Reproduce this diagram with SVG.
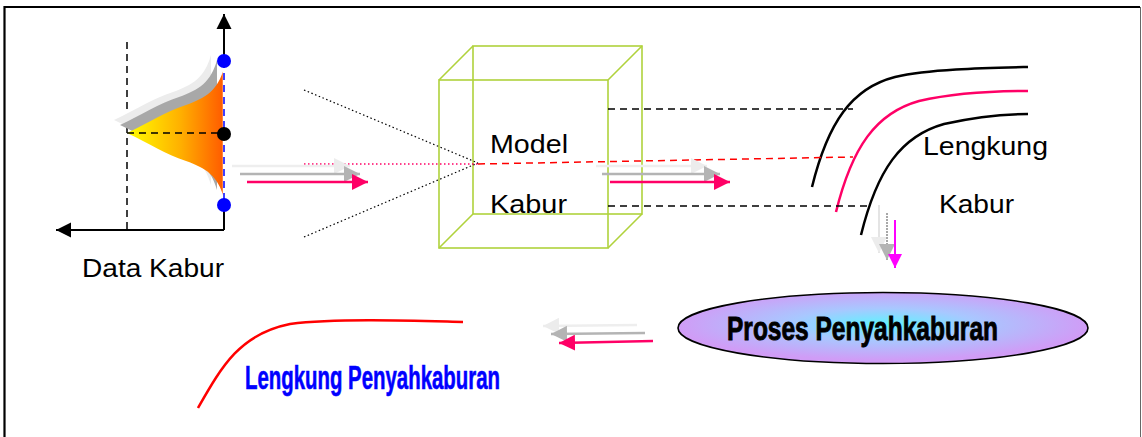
<svg xmlns="http://www.w3.org/2000/svg" width="1142" height="437" viewBox="0 0 1142 437">
  <style>
    .lbl { font-family: "Liberation Sans", Arial, sans-serif; font-size: 25px; fill: #000; }
    .art { font-family: "Liberation Sans", Arial, sans-serif; font-size: 33px; font-weight: bold; }
    .axis { stroke: #000; stroke-width: 2; fill: none; }
    .dash { stroke-width: 1.5; stroke-dasharray: 7 5; fill: none; }
    .dot { stroke: #000; stroke-width: 1.2; stroke-dasharray: 1.5 2.5; fill: none; }
    .box { stroke: #b0d23c; stroke-width: 1.6; fill: none; }
    .curve { fill: none; stroke-width: 2.5; }
  </style>
  <defs>
    <linearGradient id="bellFill" x1="0" y1="0" x2="1" y2="0">
      <stop offset="0" stop-color="#ffff00"/>
      <stop offset="0.55" stop-color="#ffb000"/>
      <stop offset="1" stop-color="#ff5a00"/>
    </linearGradient>
    <radialGradient id="ovalFill" cx="0.5" cy="0.45" r="0.5">
      <stop offset="0" stop-color="#5ff3ff"/>
      <stop offset="0.45" stop-color="#a8c8ff"/>
      <stop offset="1" stop-color="#d09cf6"/>
    </radialGradient>
    <marker id="headPinkL" viewBox="0 0 10 10" refX="10" refY="5" markerWidth="16" markerHeight="16" markerUnits="userSpaceOnUse" orient="auto">
      <path d="M0,0 L10,5 L0,10 Z" fill="#ff0066"/>
    </marker>
    <marker id="headGray" viewBox="0 0 10 10" refX="10" refY="5" markerWidth="16" markerHeight="16" markerUnits="userSpaceOnUse" orient="auto">
      <path d="M0,0 L10,5 L0,10 Z" fill="#b4b4b4"/>
    </marker>
    <marker id="headLight" viewBox="0 0 10 10" refX="10" refY="5" markerWidth="16" markerHeight="16" markerUnits="userSpaceOnUse" orient="auto">
      <path d="M0,0 L10,5 L0,10 Z" fill="#ececec"/>
    </marker>
    <marker id="headMag" viewBox="0 0 10 10" refX="10" refY="5" markerWidth="16" markerHeight="14" markerUnits="userSpaceOnUse" orient="auto">
      <path d="M0,0 L10,5 L0,10 Z" fill="#ff00ff"/>
    </marker>
    <marker id="headBlack" viewBox="0 0 10 10" refX="10" refY="5" markerWidth="15" markerHeight="17" markerUnits="userSpaceOnUse" orient="auto">
      <path d="M0,0 L10,5 L0,10 Z" fill="#000"/>
    </marker>
    <!-- sideways half bell curve -->
    <path id="bell" d="M127,133 C150,122 165,112 186,105 C206,98 218,90 224,68 L224,198 C218,176 206,168 186,161 C165,154 150,144 127,133 Z"/>
  </defs>

  <!-- outer frame -->
  <path d="M4.5,440 V7 H1140" fill="none" stroke="#000" stroke-width="2.2"/>
  <path d="M1140.5,7 V440" fill="none" stroke="#666" stroke-width="1"/>

  <!-- fuzzy input data plot -->
  <g id="data-kabur">
    <line class="dash" x1="127" y1="42" x2="127" y2="230" stroke="#000"/>
    <use href="#bell" fill="#ececec" transform="translate(-13,-13)"/>
    <use href="#bell" fill="#a8a8a8" transform="translate(-7,-8)"/>
    <use href="#bell" fill="url(#bellFill)"/>
    <line class="dash" x1="127" y1="133" x2="224" y2="133" stroke="#000"/>
    <path class="axis" d="M224,230 V14" marker-end="url(#headBlack)"/>
    <path class="axis" d="M224,230 H56" marker-end="url(#headBlack)"/>
    <line x1="224" y1="61" x2="224" y2="205" stroke="#fff" stroke-width="2.5"/>
    <line class="dash" x1="224" y1="61" x2="224" y2="205" stroke="#0000ff" stroke-width="2.5" stroke-dasharray="8 5"/>
    <circle cx="224" cy="61" r="7" fill="#0000ff"/>
    <circle cx="224" cy="134" r="7" fill="#000"/>
    <circle cx="224" cy="205" r="7" fill="#0000ff"/>
    <text class="lbl" x="82" y="277" textLength="142" lengthAdjust="spacingAndGlyphs">Data Kabur</text>
  </g>

  <!-- fuzzy model box -->
  <g id="model-kabur">
    <rect class="box" x="473" y="46" width="169" height="168"/>
    <rect class="box" x="439" y="80" width="169" height="168"/>
    <path class="box" d="M439,80 L473,46 M608,80 L642,46 M439,248 L473,214 M608,248 L642,214"/>
    <text class="lbl" x="490" y="153" textLength="78" lengthAdjust="spacingAndGlyphs">Model</text>
    <text class="lbl" x="490" y="213" textLength="77" lengthAdjust="spacingAndGlyphs">Kabur</text>
  </g>

  <!-- fuzzy output curves -->
  <g id="lengkung-kabur">
    <path class="curve" stroke="#000" d="M812,187 C828,122 852,88 895,77 C930,69 985,68 1028,67"/>
    <path class="curve" stroke="#ff0066" d="M836,212 C852,147 876,113 919,101 C954,93 1000,91 1028,91"/>
    <path class="curve" stroke="#000" d="M861,235 C877,170 901,136 944,124 C979,116 1010,114 1028,114"/>
    <text class="lbl" x="923" y="155" textLength="125" lengthAdjust="spacingAndGlyphs">Lengkung</text>
    <text class="lbl" x="939" y="213" textLength="75" lengthAdjust="spacingAndGlyphs">Kabur</text>
  </g>

  <!-- defuzzification step -->
  <g id="proses-penyahkaburan">
    <ellipse cx="883" cy="328" rx="205" ry="35.5" fill="url(#ovalFill)" stroke="#000" stroke-width="1.6"/>
    <text class="art" x="727" y="340" fill="#000" stroke="#000" stroke-width="0.9" textLength="271" lengthAdjust="spacingAndGlyphs">Proses Penyahkaburan</text>
  </g>

  <!-- crisp result curve -->
  <g id="lengkung-penyahkaburan">
    <path class="curve" stroke="#ff0000" d="M198,408 C222,366 240,334 290,324 C340,318 420,321 463,322"/>
    <text class="art" x="245" y="389" fill="#0000ff" stroke="#0000ff" stroke-width="0.6" textLength="255" lengthAdjust="spacingAndGlyphs">Lengkung Penyahkaburan</text>
  </g>

  <!-- connectors -->
  <g id="connectors">
    <!-- projection lines into the model -->
    <line class="dot" x1="304" y1="90" x2="478" y2="163"/>
    <line class="dot" x1="304" y1="237" x2="478" y2="163"/>
    <line x1="304" y1="164" x2="478" y2="164" stroke="#ff0066" stroke-width="1.3" stroke-dasharray="1.5 2.5"/>
    <line class="dash" x1="478" y1="164" x2="853" y2="157" stroke="#ff0000"/>
    <line class="dash" x1="608" y1="109" x2="853" y2="109" stroke="#000"/>
    <line class="dash" x1="608" y1="206" x2="868" y2="206" stroke="#000"/>

    <!-- data -> model -->
    <line x1="232" y1="166" x2="350" y2="166" stroke="#eeeeee" stroke-width="2.5" marker-end="url(#headLight)"/>
    <line x1="240" y1="174" x2="360" y2="174" stroke="#b4b4b4" stroke-width="2.5" marker-end="url(#headGray)"/>
    <line x1="247" y1="182" x2="368" y2="182" stroke="#ff0066" stroke-width="2.5" marker-end="url(#headPinkL)"/>

    <!-- model -> curves -->
    <line x1="596" y1="166" x2="707" y2="166" stroke="#eeeeee" stroke-width="2.5" marker-end="url(#headLight)"/>
    <line x1="602" y1="174" x2="720" y2="174" stroke="#b4b4b4" stroke-width="2.5" marker-end="url(#headGray)"/>
    <line x1="610" y1="182" x2="730" y2="182" stroke="#ff0066" stroke-width="2.5" marker-end="url(#headPinkL)"/>

    <!-- curves -> defuzzification -->
    <line x1="879" y1="205" x2="879" y2="253" stroke="#e4e4e4" stroke-width="2" marker-end="url(#headLight)"/>
    <line x1="887" y1="213" x2="887" y2="260" stroke="#a8a8a8" stroke-width="2" stroke-dasharray="2 1" marker-end="url(#headGray)"/>
    <line x1="895" y1="220" x2="895" y2="268" stroke="#ff00ff" stroke-width="2" marker-end="url(#headMag)"/>

    <!-- defuzzification -> result -->
    <line x1="637" y1="325" x2="543" y2="326" stroke="#eeeeee" stroke-width="2.5" marker-end="url(#headLight)"/>
    <line x1="645" y1="333" x2="551" y2="334" stroke="#b4b4b4" stroke-width="2.5" marker-end="url(#headGray)"/>
    <line x1="653" y1="341" x2="559" y2="343" stroke="#ff0066" stroke-width="2.5" marker-end="url(#headPinkL)"/>
  </g>
</svg>
